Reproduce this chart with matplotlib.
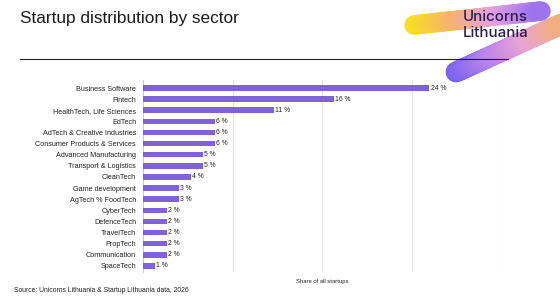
import matplotlib.pyplot as plt
import numpy as np
from matplotlib.collections import LineCollection
from matplotlib.colors import LinearSegmentedColormap

plt.rcParams['font.family'] = ['Liberation Sans', 'DejaVu Sans']

sectors = [
    "Business Software", "Fintech", "HealthTech, Life Sciences", "EdTech",
    "AdTech & Creative Industries", "Consumer Products & Services",
    "Advanced Manufacturing", "Transport & Logistics", "CleanTech",
    "Game development", "AgTech % FoodTech", "CyberTech", "DefenceTech",
    "TravelTech", "PropTech", "Communication", "SpaceTech",
]
shares = [0.24, 0.16, 0.11, 0.06, 0.06, 0.06, 0.05, 0.05, 0.04,
          0.03, 0.03, 0.02, 0.02, 0.02, 0.02, 0.02, 0.01]
grid_ticks = [0.075, 0.15, 0.225, 0.30]

W, H = 560, 299
fig = plt.figure(figsize=(W / 100, H / 100), dpi=100)

# overlay in pixel coordinates for header, logo and footer
ov = fig.add_axes([0, 0, 1, 1])
ov.set_xlim(0, W)
ov.set_ylim(H, 0)
ov.axis('off')


def swoosh(ax, p0, p1, colors, lw):
    t = np.linspace(0, 1, 80)
    x = p0[0] + (p1[0] - p0[0]) * t
    y = p0[1] + (p1[1] - p0[1]) * t
    pts = np.column_stack([x, y]).reshape(-1, 1, 2)
    segs = np.concatenate([pts[:-1], pts[1:]], axis=1)
    cmap = LinearSegmentedColormap.from_list('g', colors)
    lc = LineCollection(segs, colors=cmap(t[:-1]), linewidths=lw,
                        capstyle='round', zorder=1)
    ax.add_collection(lc)


swoosh(ov, (456, 72), (566, 22), ['#7a62f0', '#b984ec', '#e9a3d6', '#f2b070'], 15)
swoosh(ov, (414, 25), (541, 11), ['#f8e21c', '#f6b46c', '#e6a0e2', '#9a72ee'], 14)

ov.text(463, 17, "Unicorns", fontsize=10.8, family='Inter', weight='medium',
        color='#2a1c4c', va='center', ha='left', zorder=3)
ov.text(463, 33, "Lithuania", fontsize=10.8, family='Inter', weight='medium',
        color='#2a1c4c', va='center', ha='left', zorder=3)

ov.text(20, 19, "Startup distribution by sector", fontsize=12.4, color='#1a1a1a',
        va='center', ha='left')
ov.plot([20, 508], [59, 59], color='#222222', lw=0.8)
ov.text(14, 290, "Source: Unicorns Lithuania & Startup Lithuania data, 2026",
        fontsize=4.9, color='#222222', va='center', ha='left')

# bar chart
ax = fig.add_axes([143 / W, 1 - 272 / H, (501 - 143) / W, (272 - 80) / H])
ax.patch.set_alpha(0)
ypos = np.arange(len(sectors))
ax.barh(ypos, shares, height=0.5, color='#7f62dc', zorder=3)
ax.set_xlim(0, 0.30)
ax.set_ylim(16.55, -0.72)
ax.set_yticks(ypos)
ax.set_yticklabels(sectors, fontsize=5.2, color='#222222')
ax.tick_params(axis='y', length=0, pad=5)
ax.set_xticks(grid_ticks)
ax.tick_params(axis='x', length=0, labelbottom=False)
ax.grid(axis='x', color='#e2e2e2', lw=0.8, zorder=0)
for s in ['top', 'right', 'bottom']:
    ax.spines[s].set_visible(False)
ax.spines['left'].set_color('#c8c8c8')
ax.spines['left'].set_linewidth(0.8)

for y, v in zip(ypos, shares):
    ax.text(v + 0.001, y, f"{v * 100:.0f} %", fontsize=4.9, color='#222222',
            va='center', ha='left', zorder=4)

ax.set_xlabel("Share of all startups", fontsize=4.2, color='#222222', labelpad=5)

fig.savefig('out.png', dpi=100)
